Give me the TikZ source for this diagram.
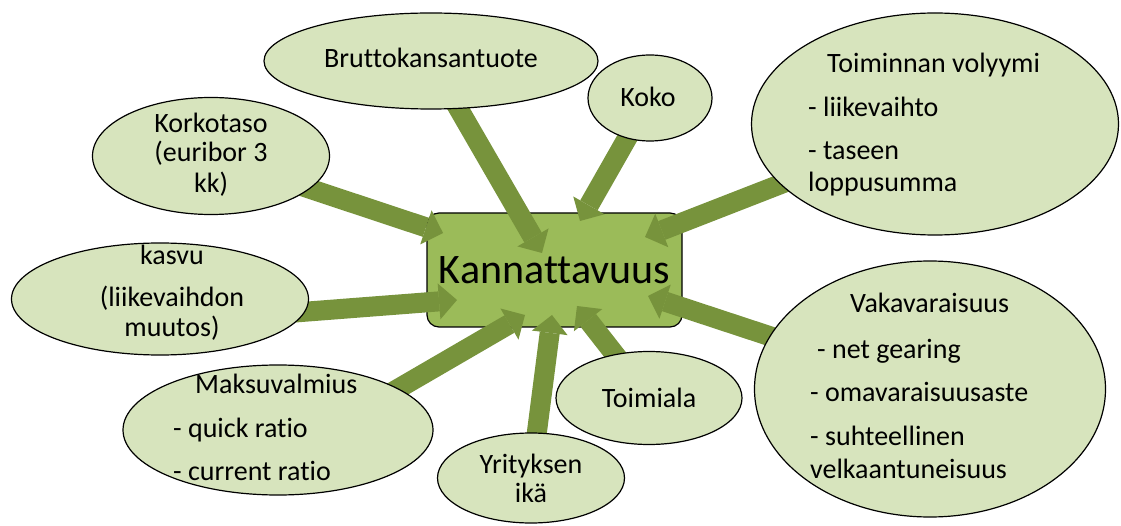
\documentclass[tikz,border=0pt]{standalone}
\usepackage{fontspec}
\setmainfont{Carlito}[Ligatures={NoCommon,NoContextual}]
\usepackage{xcolor}
\definecolor{bubbleFill}{HTML}{D7E4BD}
\definecolor{hubFill}{HTML}{9BBB59}
\definecolor{feedFill}{HTML}{77933C}
\usepackage{tikz}
\usetikzlibrary{shapes.geometric, arrows.meta, backgrounds}

\begin{document}
\begin{tikzpicture}[
  x=1pt, y=-1pt,
  every node/.style={inner sep=0pt},
  bubble/.style={ellipse, draw=black, fill=bubbleFill, line width=1.2pt},
  hub/.style={rectangle, draw=black, fill=hubFill, line width=1.2pt,
    rounded corners=12pt, minimum width=255pt, minimum height=114pt,
    font=\fontsize{42}{50}\selectfont},
  txt/.style={anchor=base, font=\fontsize{28}{32}\selectfont},
  txtl/.style={anchor=base west, font=\fontsize{28}{32}\selectfont},
  feed/.style={draw=feedFill, line width=20pt,
    -{Triangle[length=18pt, width=36pt, line width=0pt]}},
]
  \useasboundingbox (0,0) rectangle (1121,526);

  % bubbles
  \node[bubble, minimum width=334pt, minimum height=96pt] (brutto) at (431,61) {};
  \node[bubble, minimum width=124pt, minimum height=86pt] (koko) at (650,98) {};
  \node[bubble, minimum width=367pt, minimum height=222pt] (volyymi) at (935,124) {};
  \node[bubble, minimum width=237pt, minimum height=117pt] (korko) at (211,156) {};
  \node[bubble, minimum width=297pt, minimum height=112pt] (kasvu) at (160,299) {};
  \node[bubble, minimum width=310pt, minimum height=130pt] (maks) at (278,430) {};
  \node[bubble, minimum width=187pt, minimum height=90pt] (ika) at (531,478) {};
  \node[bubble, minimum width=186pt, minimum height=93pt] (ala) at (649,398) {};
  \node[bubble, minimum width=351pt, minimum height=256pt] (vaka) at (930,389) {};

  % texts
  \node[txt] (brutto-t) at (431,68) {Bruttokansantuote};
  \node[txt] (koko-t) at (648,107) {Koko};
  \node[txtl] (volyymi-t) at (808,73) {\begin{tabular}[t]{@{}l@{}}\hspace{19pt}Toiminnan volyymi\\[12pt] - liikevaihto\\[11pt] - taseen\\ loppusumma\end{tabular}};
  \node[txt] (korko-t) at (211,133) {\begin{tabular}[t]{@{}c@{}}Korkotaso\\[-3pt] (euribor 3\\[-1pt] kk)\end{tabular}};
  \node[txt] (kasvu-t) at (172,265) {\begin{tabular}[t]{@{}c@{}}kasvu\hspace{38pt}\\[10pt] (liikevaihdon\\[-2pt] muutos)\end{tabular}};
  \node[txtl] (maks-t) at (173,393) {\begin{tabular}[t]{@{}l@{}}\hspace{22pt}Maksuvalmius\\[12pt] - quick ratio\\[11pt] - current ratio\end{tabular}};
  \node[txt] (ika-t) at (531,473) {\begin{tabular}[t]{@{}c@{}}Yrityksen\\[-3pt] ikä\end{tabular}};
  \node[txt] (ala-t) at (649,407) {Toimiala};
  \node[txtl] (vaka-t) at (810,313) {\begin{tabular}[t]{@{}l@{}}\hspace{40pt}Vakavaraisuus\\[13pt] \hspace{7pt}- net gearing\\[12pt] - omavaraisuusaste\\[11pt] - suhteellinen\\[1pt] velkaantuneisuus\end{tabular}};

  % arrow tips inside the box
  \coordinate (korko-in) at (443,233);
  \coordinate (brutto-in) at (542,253);
  \coordinate (koko-in) at (580,221);
  \coordinate (volyymi-in) at (645,237);
  \coordinate (vaka-in) at (648,296);
  \coordinate (kasvu-in) at (457,300);
  \coordinate (maks-in) at (525,315);
  \coordinate (ika-in) at (552,315);
  \coordinate (ala-in) at (577,306);

  \begin{scope}[on background layer]
    \node[hub] (kann) at (554.5,270) {Kannattavuus};
    \draw[feed] (korko.center) -- (korko-in);
    \draw[feed] (brutto.center) -- (brutto-in);
    \draw[feed] (koko.center) -- (koko-in);
    \draw[feed] (volyymi.center) -- (volyymi-in);
    \draw[feed] (vaka.center) -- (vaka-in);
    \draw[feed, shorten <=-24pt] (kasvu.-5) -- (kasvu-in);
    \draw[feed, shorten <=-24pt] (maks.19) -- (maks-in);
    \draw[feed] (ika.center) -- (ika-in);
    \draw[feed] (ala.center) -- (ala-in);
  \end{scope}
\end{tikzpicture}
\end{document}
